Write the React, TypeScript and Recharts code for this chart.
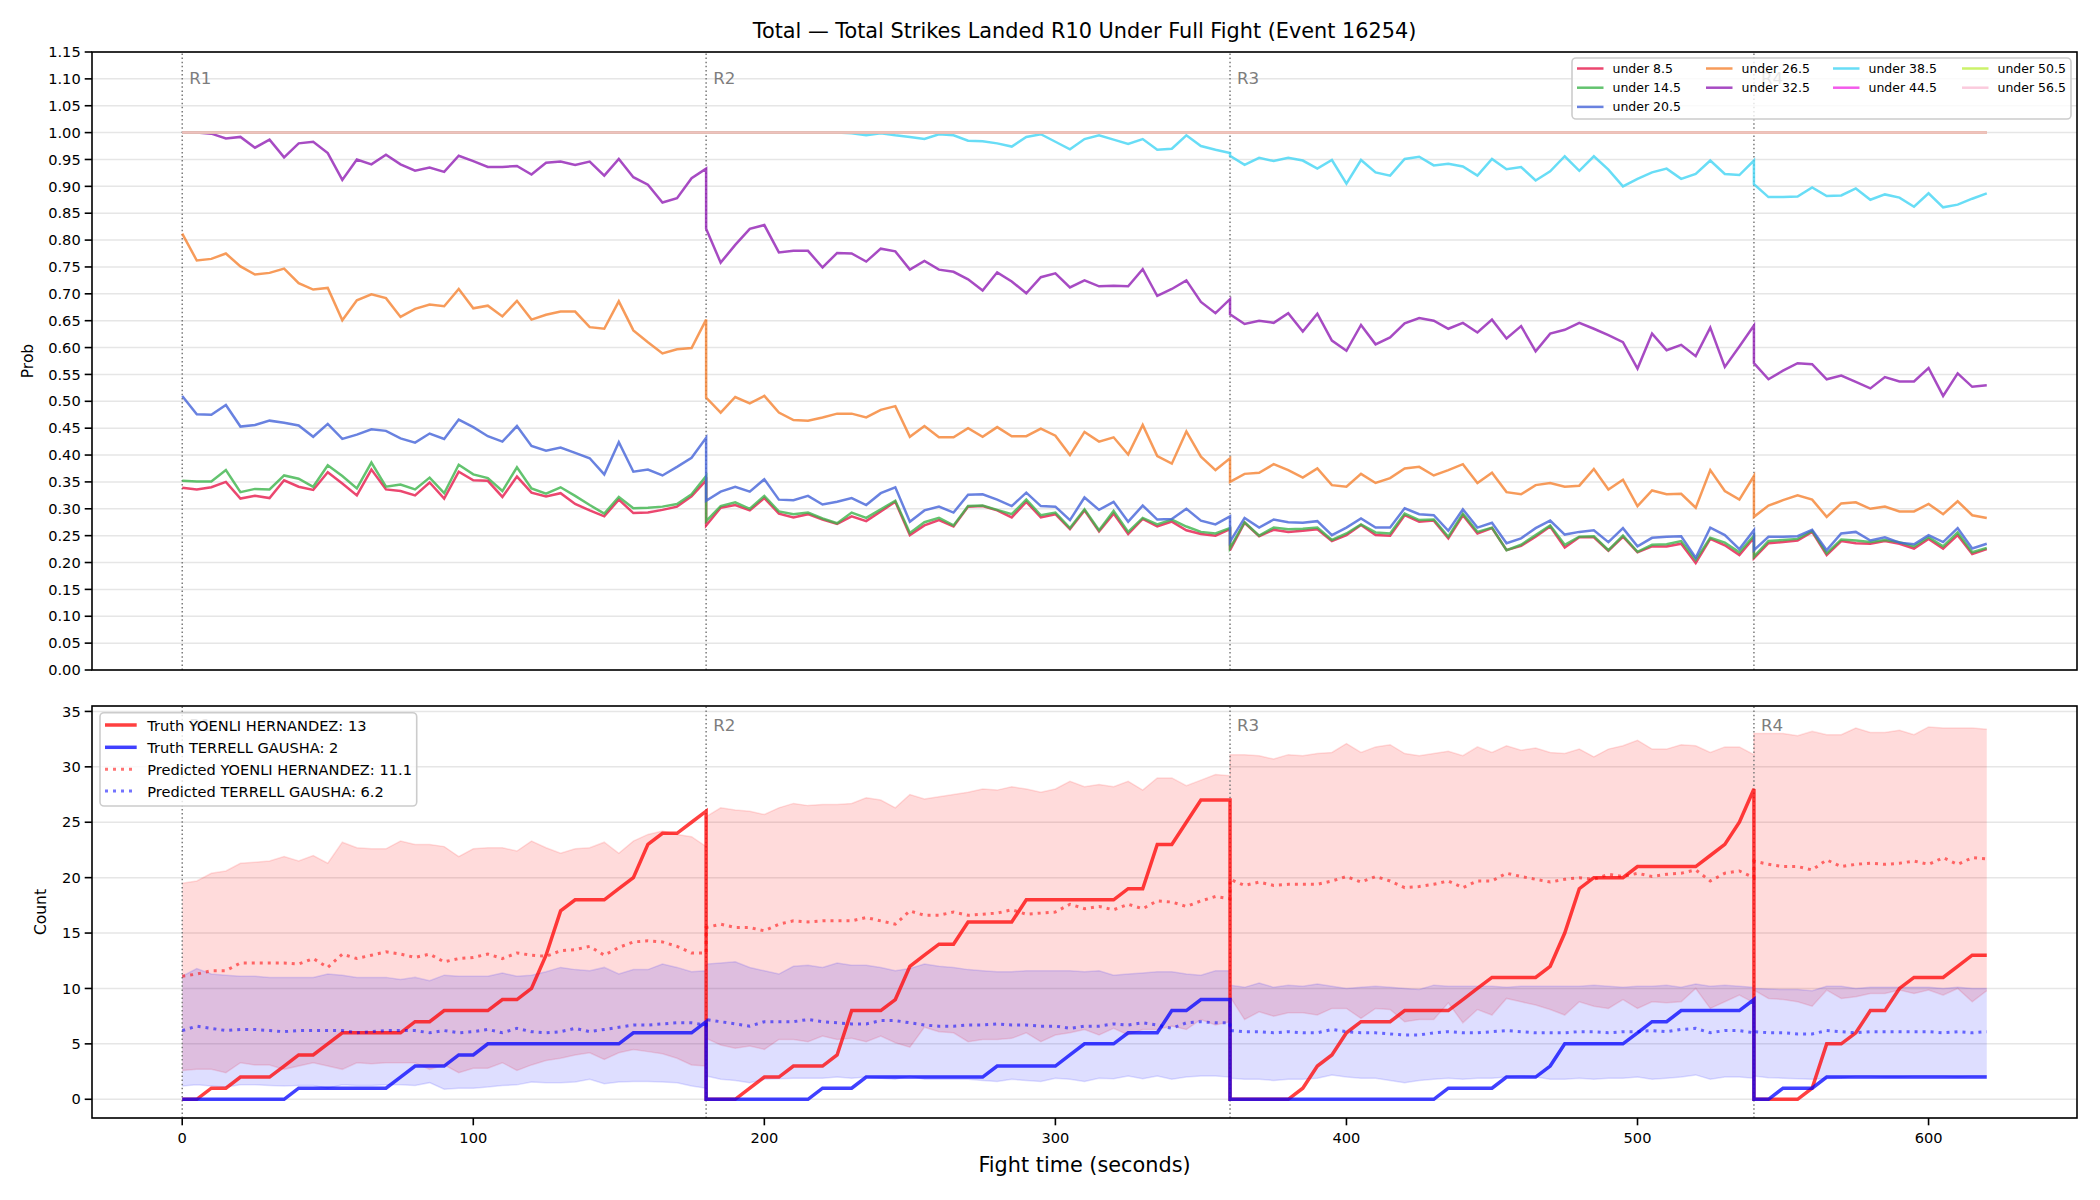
import React from 'react';
import { ComposedChart, Line, Area, XAxis, YAxis, CartesianGrid, ReferenceLine } from 'recharts';

const FONT = 'DejaVu Sans, sans-serif';

// snapshots every 5 s; each round restarts its own clock-in-fight at these times
const ROUND_STARTS = [0, 180, 360, 540];
const ROUND_NAMES = ['R1', 'R2', 'R3', 'R4'];
const SNAP_STEP = 5;

const TIME_TICKS = [0, 100, 200, 300, 400, 500, 600];
const PROB_TICKS = [0, 0.05, 0.1, 0.15, 0.2, 0.25, 0.3, 0.35, 0.4, 0.45, 0.5, 0.55, 0.6, 0.65, 0.7, 0.75, 0.8, 0.85, 0.9, 0.95, 1, 1.05, 1.1, 1.15];
const COUNT_TICKS = [0, 5, 10, 15, 20, 25, 30, 35];

const TITLE = 'Total \u2014 Total Strikes Landed R10 Under Full Fight (Event 16254)';
const FIGHTER_A = 'YOENLI HERNANDEZ';
const FIGHTER_B = 'TERRELL GAUSHA';

// ---- probability of finishing under each line, one list per round ----
const under8_5 = [
  [0.339, 0.336, 0.340, 0.350, 0.319, 0.324, 0.320, 0.353, 0.341, 0.335, 0.368, 0.347, 0.325, 0.373, 0.336, 0.333, 0.325, 0.349, 0.319, 0.369, 0.353, 0.352, 0.322, 0.360, 0.330, 0.323, 0.329, 0.309, 0.297, 0.286, 0.317, 0.292, 0.293, 0.298, 0.304, 0.323, 0.353],
  [0.269, 0.302, 0.307, 0.297, 0.320, 0.291, 0.284, 0.290, 0.280, 0.272, 0.286, 0.277, 0.295, 0.313, 0.251, 0.269, 0.279, 0.267, 0.304, 0.305, 0.297, 0.284, 0.313, 0.284, 0.290, 0.262, 0.297, 0.258, 0.291, 0.253, 0.281, 0.267, 0.276, 0.260, 0.253, 0.250, 0.262],
  [0.223, 0.274, 0.249, 0.261, 0.257, 0.259, 0.262, 0.240, 0.251, 0.270, 0.251, 0.250, 0.288, 0.276, 0.278, 0.245, 0.288, 0.254, 0.264, 0.223, 0.231, 0.248, 0.267, 0.228, 0.247, 0.247, 0.222, 0.248, 0.219, 0.230, 0.230, 0.235, 0.199, 0.244, 0.232, 0.214, 0.246],
  [0.208, 0.236, 0.238, 0.241, 0.257, 0.214, 0.240, 0.236, 0.235, 0.240, 0.235, 0.226, 0.244, 0.226, 0.251, 0.216, 0.225],
];
const under14_5 = [
  [0.352, 0.351, 0.351, 0.372, 0.331, 0.337, 0.336, 0.362, 0.356, 0.341, 0.381, 0.361, 0.338, 0.386, 0.341, 0.345, 0.336, 0.358, 0.329, 0.382, 0.364, 0.357, 0.333, 0.377, 0.338, 0.328, 0.340, 0.324, 0.307, 0.291, 0.322, 0.301, 0.302, 0.304, 0.309, 0.327, 0.361],
  [0.277, 0.305, 0.312, 0.300, 0.324, 0.295, 0.290, 0.293, 0.282, 0.273, 0.293, 0.283, 0.299, 0.315, 0.255, 0.275, 0.283, 0.269, 0.305, 0.306, 0.298, 0.290, 0.317, 0.288, 0.293, 0.264, 0.299, 0.260, 0.296, 0.257, 0.283, 0.271, 0.280, 0.267, 0.257, 0.254, 0.264],
  [0.227, 0.275, 0.250, 0.265, 0.262, 0.263, 0.265, 0.242, 0.254, 0.271, 0.256, 0.254, 0.291, 0.279, 0.280, 0.248, 0.291, 0.257, 0.265, 0.223, 0.233, 0.251, 0.269, 0.233, 0.248, 0.249, 0.223, 0.250, 0.220, 0.233, 0.234, 0.240, 0.205, 0.246, 0.237, 0.219, 0.250],
  [0.211, 0.240, 0.242, 0.244, 0.259, 0.217, 0.243, 0.241, 0.238, 0.242, 0.238, 0.230, 0.247, 0.230, 0.256, 0.219, 0.227],
];
const under20_5 = [
  [0.510, 0.476, 0.475, 0.493, 0.453, 0.456, 0.464, 0.460, 0.455, 0.434, 0.458, 0.430, 0.438, 0.448, 0.445, 0.431, 0.423, 0.440, 0.430, 0.466, 0.452, 0.435, 0.425, 0.454, 0.417, 0.408, 0.414, 0.404, 0.394, 0.364, 0.424, 0.369, 0.373, 0.362, 0.378, 0.395, 0.432],
  [0.315, 0.332, 0.341, 0.332, 0.355, 0.317, 0.316, 0.324, 0.308, 0.313, 0.320, 0.307, 0.329, 0.340, 0.276, 0.297, 0.304, 0.293, 0.326, 0.327, 0.317, 0.305, 0.330, 0.305, 0.304, 0.279, 0.321, 0.298, 0.313, 0.276, 0.306, 0.280, 0.281, 0.300, 0.278, 0.271, 0.286],
  [0.239, 0.283, 0.265, 0.280, 0.275, 0.274, 0.277, 0.251, 0.265, 0.282, 0.265, 0.265, 0.301, 0.290, 0.288, 0.259, 0.299, 0.265, 0.274, 0.236, 0.245, 0.264, 0.278, 0.252, 0.257, 0.260, 0.238, 0.264, 0.230, 0.246, 0.248, 0.249, 0.209, 0.265, 0.251, 0.225, 0.260],
  [0.223, 0.248, 0.248, 0.249, 0.261, 0.223, 0.254, 0.257, 0.241, 0.247, 0.237, 0.234, 0.251, 0.238, 0.264, 0.226, 0.235],
];
const under26_5 = [
  [0.812, 0.762, 0.765, 0.775, 0.751, 0.736, 0.739, 0.747, 0.720, 0.708, 0.711, 0.651, 0.688, 0.699, 0.692, 0.657, 0.672, 0.680, 0.677, 0.709, 0.673, 0.678, 0.658, 0.687, 0.652, 0.661, 0.667, 0.667, 0.638, 0.635, 0.686, 0.632, 0.610, 0.589, 0.597, 0.599, 0.652],
  [0.507, 0.479, 0.508, 0.496, 0.510, 0.479, 0.465, 0.464, 0.470, 0.477, 0.477, 0.470, 0.484, 0.491, 0.434, 0.454, 0.433, 0.433, 0.450, 0.434, 0.452, 0.435, 0.435, 0.449, 0.436, 0.400, 0.443, 0.425, 0.433, 0.401, 0.456, 0.398, 0.384, 0.444, 0.397, 0.372, 0.394],
  [0.350, 0.365, 0.367, 0.383, 0.372, 0.358, 0.375, 0.344, 0.341, 0.365, 0.348, 0.357, 0.375, 0.378, 0.362, 0.372, 0.383, 0.348, 0.367, 0.331, 0.327, 0.344, 0.348, 0.341, 0.343, 0.374, 0.336, 0.354, 0.305, 0.334, 0.327, 0.328, 0.302, 0.372, 0.333, 0.317, 0.361],
  [0.285, 0.306, 0.316, 0.325, 0.317, 0.285, 0.310, 0.312, 0.300, 0.304, 0.295, 0.295, 0.309, 0.290, 0.314, 0.288, 0.283],
];
const under32_5 = [
  [1.000, 1.000, 0.998, 0.989, 0.992, 0.972, 0.987, 0.954, 0.980, 0.983, 0.962, 0.912, 0.950, 0.941, 0.959, 0.941, 0.929, 0.935, 0.927, 0.957, 0.947, 0.936, 0.936, 0.938, 0.922, 0.944, 0.946, 0.940, 0.946, 0.920, 0.951, 0.917, 0.903, 0.870, 0.878, 0.915, 0.933],
  [0.821, 0.758, 0.791, 0.821, 0.828, 0.777, 0.780, 0.780, 0.749, 0.776, 0.775, 0.760, 0.784, 0.779, 0.745, 0.761, 0.745, 0.741, 0.727, 0.706, 0.740, 0.723, 0.701, 0.731, 0.738, 0.712, 0.725, 0.714, 0.715, 0.714, 0.746, 0.696, 0.709, 0.725, 0.685, 0.664, 0.690],
  [0.662, 0.644, 0.650, 0.646, 0.664, 0.630, 0.663, 0.613, 0.594, 0.642, 0.606, 0.619, 0.645, 0.655, 0.650, 0.635, 0.646, 0.628, 0.652, 0.617, 0.640, 0.593, 0.626, 0.633, 0.646, 0.635, 0.623, 0.610, 0.561, 0.626, 0.595, 0.605, 0.584, 0.637, 0.564, 0.602, 0.641],
  [0.571, 0.541, 0.557, 0.571, 0.569, 0.541, 0.548, 0.536, 0.524, 0.545, 0.537, 0.537, 0.562, 0.510, 0.552, 0.527, 0.530],
];
const under38_5 = [
  [1, 1, 1, 1, 1, 1, 1, 1, 1, 1, 1, 1, 1, 1, 1, 1, 1, 1, 1, 1, 1, 1, 1, 1, 1, 1, 1, 1, 1, 1, 1, 1, 1, 1, 1, 1, 1],
  [1, 1, 1, 1, 1, 1, 1, 1, 1, 1, 0.999, 0.995, 0.999, 0.995, 0.992, 0.988, 0.997, 0.995, 0.985, 0.984, 0.980, 0.974, 0.992, 0.997, 0.983, 0.969, 0.988, 0.995, 0.987, 0.979, 0.988, 0.968, 0.970, 0.995, 0.975, 0.968, 0.962],
  [0.957, 0.940, 0.953, 0.947, 0.953, 0.948, 0.933, 0.949, 0.905, 0.949, 0.926, 0.920, 0.951, 0.955, 0.939, 0.942, 0.937, 0.920, 0.951, 0.932, 0.936, 0.911, 0.928, 0.956, 0.929, 0.956, 0.931, 0.900, 0.914, 0.926, 0.933, 0.914, 0.923, 0.948, 0.923, 0.921, 0.948],
  [0.904, 0.880, 0.880, 0.881, 0.898, 0.882, 0.883, 0.896, 0.875, 0.885, 0.879, 0.862, 0.887, 0.861, 0.866, 0.877, 0.887],
];
const under44_5 = [
  [1, 1, 1, 1, 1, 1, 1, 1, 1, 1, 1, 1, 1, 1, 1, 1, 1, 1, 1, 1, 1, 1, 1, 1, 1, 1, 1, 1, 1, 1, 1, 1, 1, 1, 1, 1, 1],
  [1, 1, 1, 1, 1, 1, 1, 1, 1, 1, 1, 1, 1, 1, 1, 1, 1, 1, 1, 1, 1, 1, 1, 1, 1, 1, 1, 1, 1, 1, 1, 1, 1, 1, 1, 1, 1],
  [1, 1, 1, 1, 1, 1, 1, 1, 1, 1, 1, 1, 1, 1, 1, 1, 1, 1, 1, 1, 1, 1, 1, 1, 1, 1, 1, 1, 1, 1, 1, 1, 1, 1, 1, 1, 1],
  [1, 1, 1, 1, 1, 1, 1, 1, 1, 1, 1, 1, 1, 1, 1, 1, 1],
];
const under50_5 = [
  [1, 1, 1, 1, 1, 1, 1, 1, 1, 1, 1, 1, 1, 1, 1, 1, 1, 1, 1, 1, 1, 1, 1, 1, 1, 1, 1, 1, 1, 1, 1, 1, 1, 1, 1, 1, 1],
  [1, 1, 1, 1, 1, 1, 1, 1, 1, 1, 1, 1, 1, 1, 1, 1, 1, 1, 1, 1, 1, 1, 1, 1, 1, 1, 1, 1, 1, 1, 1, 1, 1, 1, 1, 1, 1],
  [1, 1, 1, 1, 1, 1, 1, 1, 1, 1, 1, 1, 1, 1, 1, 1, 1, 1, 1, 1, 1, 1, 1, 1, 1, 1, 1, 1, 1, 1, 1, 1, 1, 1, 1, 1, 1],
  [1, 1, 1, 1, 1, 1, 1, 1, 1, 1, 1, 1, 1, 1, 1, 1, 1],
];
const under56_5 = [
  [1, 1, 1, 1, 1, 1, 1, 1, 1, 1, 1, 1, 1, 1, 1, 1, 1, 1, 1, 1, 1, 1, 1, 1, 1, 1, 1, 1, 1, 1, 1, 1, 1, 1, 1, 1, 1],
  [1, 1, 1, 1, 1, 1, 1, 1, 1, 1, 1, 1, 1, 1, 1, 1, 1, 1, 1, 1, 1, 1, 1, 1, 1, 1, 1, 1, 1, 1, 1, 1, 1, 1, 1, 1, 1],
  [1, 1, 1, 1, 1, 1, 1, 1, 1, 1, 1, 1, 1, 1, 1, 1, 1, 1, 1, 1, 1, 1, 1, 1, 1, 1, 1, 1, 1, 1, 1, 1, 1, 1, 1, 1, 1],
  [1, 1, 1, 1, 1, 1, 1, 1, 1, 1, 1, 1, 1, 1, 1, 1, 1],
];

// ---- running strike counts per round ----
const truthA = [
  [0, 0, 1, 1, 2, 2, 2, 3, 4, 4, 5, 6, 6, 6, 6, 6, 7, 7, 8, 8, 8, 8, 9, 9, 10, 13, 17, 18, 18, 18, 19, 20, 23, 24, 24, 25, 26],
  [0, 0, 0, 1, 2, 2, 3, 3, 3, 4, 8, 8, 8, 9, 12, 13, 14, 14, 16, 16, 16, 16, 18, 18, 18, 18, 18, 18, 18, 19, 19, 23, 23, 25, 27, 27, 27],
  [0, 0, 0, 0, 0, 1, 3, 4, 6, 7, 7, 7, 8, 8, 8, 8, 9, 10, 11, 11, 11, 11, 12, 15, 19, 20, 20, 20, 21, 21, 21, 21, 21, 22, 23, 25, 28],
  [0, 0, 0, 0, 1, 5, 5, 6, 8, 8, 10, 11, 11, 11, 12, 13, 13],
];
const truthB = [
  [0, 0, 0, 0, 0, 0, 0, 0, 1, 1, 1, 1, 1, 1, 1, 2, 3, 3, 3, 4, 4, 5, 5, 5, 5, 5, 5, 5, 5, 5, 5, 6, 6, 6, 6, 6, 7],
  [0, 0, 0, 0, 0, 0, 0, 0, 1, 1, 1, 2, 2, 2, 2, 2, 2, 2, 2, 2, 3, 3, 3, 3, 3, 4, 5, 5, 5, 6, 6, 6, 8, 8, 9, 9, 9],
  [0, 0, 0, 0, 0, 0, 0, 0, 0, 0, 0, 0, 0, 0, 0, 1, 1, 1, 1, 2, 2, 2, 3, 5, 5, 5, 5, 5, 6, 7, 7, 8, 8, 8, 8, 8, 9],
  [0, 0, 1, 1, 1, 2, 2, 2, 2, 2, 2, 2, 2, 2, 2, 2, 2],
];
const predA = [
  [11.1, 11.3, 11.6, 11.6, 12.3, 12.3, 12.3, 12.3, 12.2, 12.7, 11.9, 13.1, 12.7, 13.0, 13.3, 13.1, 12.8, 13.1, 12.4, 12.7, 12.8, 13.1, 12.7, 13.2, 13.0, 12.9, 13.4, 13.5, 13.8, 13.0, 13.7, 14.2, 14.3, 14.2, 13.8, 13.2, 13.2],
  [15.5, 15.8, 15.5, 15.5, 15.2, 15.8, 16.1, 16.0, 16.1, 16.1, 16.1, 16.4, 16.1, 15.8, 17.0, 16.6, 16.6, 16.9, 16.6, 16.7, 16.8, 17.1, 16.7, 16.8, 16.9, 17.6, 17.2, 17.4, 17.1, 17.6, 17.2, 17.9, 17.8, 17.4, 17.9, 18.3, 18.1],
  [19.85, 19.3, 19.6, 19.3, 19.4, 19.4, 19.4, 19.7, 20.1, 19.6, 20.1, 19.7, 19.1, 19.2, 19.4, 19.7, 19.1, 19.7, 19.7, 20.4, 20.1, 19.85, 19.6, 19.85, 20.0, 19.85, 20.3, 20.1, 20.4, 20.1, 20.3, 20.4, 20.7, 19.7, 20.4, 20.6, 20.0],
  [21.5, 21.2, 21.0, 21.0, 20.7, 21.6, 21.0, 21.2, 21.3, 21.2, 21.3, 21.5, 21.2, 21.8, 21.2, 21.8, 21.7],
];
const predB = [
  [6.2, 6.6, 6.4, 6.2, 6.3, 6.3, 6.2, 6.1, 6.2, 6.2, 6.2, 6.2, 6.0, 6.1, 6.2, 6.2, 6.2, 6.0, 6.2, 6.0, 6.1, 6.3, 6.0, 6.4, 6.1, 6.0, 6.1, 6.4, 6.1, 6.3, 6.5, 6.7, 6.7, 6.8, 6.9, 6.9, 6.7],
  [7.2, 7.0, 6.8, 6.6, 7.0, 7.0, 7.0, 7.2, 7.0, 6.9, 6.8, 6.8, 7.1, 7.1, 6.9, 6.7, 6.6, 6.6, 6.7, 6.7, 6.8, 6.7, 6.7, 6.6, 6.6, 6.4, 6.6, 6.6, 6.8, 6.7, 6.9, 6.7, 6.4, 6.9, 7.0, 6.9, 6.9],
  [6.2, 6.1, 6.1, 6.0, 6.1, 6.0, 6.0, 6.3, 6.1, 6.0, 6.0, 5.9, 5.8, 5.8, 6.0, 6.1, 6.0, 6.0, 6.1, 6.2, 6.1, 6.0, 6.0, 6.0, 6.1, 6.1, 6.0, 6.1, 6.1, 6.2, 6.1, 6.3, 6.4, 6.0, 6.2, 6.2, 6.0],
  [6.1, 6.0, 6.0, 5.9, 5.9, 6.2, 6.1, 6.0, 6.1, 6.1, 6.1, 6.1, 6.1, 6.0, 6.1, 6.0, 6.1],
];
// prediction intervals
const bandAHigh = [
  [19.5, 19.7, 20.4, 20.6, 21.3, 21.4, 21.5, 21.9, 21.5, 22.0, 21.3, 23.2, 22.7, 22.6, 22.6, 23.3, 23.0, 23.0, 22.8, 21.9, 22.6, 22.7, 22.7, 22.4, 23.3, 22.7, 22.2, 22.6, 22.7, 23.2, 22.2, 23.3, 23.9, 24.2, 23.9, 23.7, 22.8],
  [25.5, 26.3, 26.1, 26.0, 25.7, 26.3, 26.7, 26.5, 26.6, 26.6, 26.7, 27.2, 27.0, 26.3, 27.5, 27.1, 27.3, 27.5, 27.7, 28.0, 27.9, 28.2, 28.0, 27.7, 28.0, 28.7, 28.2, 28.4, 28.2, 28.7, 27.9, 29.0, 29.0, 28.3, 28.8, 29.3, 29.2],
  [31.1, 31.1, 31.0, 30.7, 31.1, 31.0, 31.2, 31.3, 32.1, 31.3, 31.8, 32.0, 31.2, 31.0, 31.2, 31.4, 31.0, 31.8, 31.3, 31.9, 31.5, 31.7, 31.3, 31.2, 31.6, 30.9, 31.6, 31.9, 32.4, 31.6, 31.6, 32.0, 31.9, 31.3, 31.8, 31.8, 31.1],
  [33.0, 33.0, 33.0, 32.8, 33.2, 32.9, 32.9, 33.5, 33.1, 33.1, 33.3, 32.9, 33.6, 33.5, 33.5, 33.5, 33.4],
];
const bandALow = [
  [2.6, 2.7, 2.7, 2.4, 3.3, 3.1, 3.1, 2.7, 3.0, 3.3, 3.0, 2.7, 3.3, 3.2, 3.3, 3.3, 3.3, 2.7, 3.1, 2.4, 2.8, 2.8, 3.3, 2.6, 3.1, 3.5, 3.7, 4.0, 4.2, 3.6, 4.2, 4.5, 4.3, 4.1, 3.7, 3.1, 3.0],
  [5.5, 4.9, 4.6, 4.8, 4.5, 5.4, 5.4, 5.2, 5.7, 5.4, 5.5, 5.2, 5.7, 5.1, 4.7, 6.5, 6.1, 6.0, 5.2, 5.4, 5.4, 5.5, 6.0, 5.2, 5.8, 6.0, 6.3, 5.8, 6.4, 5.8, 6.3, 6.3, 6.6, 6.3, 7.2, 6.7, 7.0],
  [9.25, 7.2, 7.9, 7.5, 7.8, 7.8, 7.6, 8.2, 8.2, 7.3, 8.2, 8.1, 7.0, 7.2, 7.2, 8.7, 6.9, 8.1, 7.6, 9.1, 8.8, 8.5, 8.1, 7.6, 8.8, 8.4, 8.2, 9.0, 8.2, 8.8, 8.7, 8.8, 10.0, 8.2, 8.8, 9.4, 8.7],
  [9.85, 9.1, 9.0, 8.8, 8.4, 9.85, 9.1, 9.25, 9.55, 9.55, 9.85, 9.55, 9.85, 9.4, 10.0, 8.8, 9.8],
];
const bandBHigh = [
  [11.1, 11.8, 11.3, 11.2, 11.1, 11.1, 11.0, 11.0, 11.0, 11.0, 11.3, 11.2, 11.0, 11.0, 11.0, 10.8, 11.0, 10.7, 11.2, 11.1, 11.1, 11.1, 11.4, 11.1, 11.2, 11.5, 11.9, 11.7, 11.6, 11.9, 11.3, 11.7, 11.7, 12.2, 11.9, 11.5, 11.6],
  [12.2, 12.3, 12.4, 11.9, 11.6, 11.3, 12.0, 12.1, 11.9, 12.3, 12.1, 12.1, 11.9, 11.6, 11.8, 12.2, 12.0, 11.9, 11.7, 11.6, 11.5, 11.5, 11.6, 11.6, 11.6, 11.6, 11.5, 11.6, 11.2, 11.3, 11.4, 11.5, 11.5, 11.3, 11.2, 11.6, 11.6],
  [10.3, 10.1, 10.5, 10.1, 10.3, 10.2, 10.4, 10.2, 10.0, 10.1, 10.2, 10.1, 10.0, 9.9, 10.3, 10.2, 10.2, 10.2, 10.2, 10.1, 10.2, 10.2, 10.2, 10.2, 10.2, 10.3, 10.2, 10.1, 10.2, 10.2, 10.3, 10.1, 10.4, 10.2, 10.3, 10.2, 10.1],
  [10.0, 9.95, 9.9, 9.9, 9.8, 10.2, 10.2, 10.0, 10.1, 10.1, 10.1, 10.1, 10.1, 10.0, 10.1, 10.0, 10.0],
];
const bandBLow = [
  [1.2, 1.3, 1.2, 1.1, 1.3, 1.3, 1.25, 1.2, 1.25, 1.25, 1.0, 1.3, 1.25, 1.25, 1.3, 1.3, 1.25, 1.5, 0.9, 1.0, 1.0, 1.1, 1.25, 1.3, 1.55, 1.5, 1.5, 1.55, 1.8, 1.4, 1.55, 1.6, 1.6, 1.55, 1.5, 1.2, 1.0],
  [2.1, 1.8, 1.7, 1.5, 1.8, 1.85, 1.9, 1.9, 1.9, 2.0, 1.9, 2.0, 1.9, 1.8, 2.1, 1.8, 1.8, 1.8, 1.8, 1.7, 1.6, 1.8, 1.7, 1.6, 1.9, 1.8, 1.6, 1.9, 1.85, 2.1, 1.85, 2.1, 1.8, 2.0, 2.1, 2.1, 2.0],
  [1.9, 1.8, 1.8, 1.7, 1.8, 1.8, 1.9, 2.2, 2.0, 1.9, 1.9, 1.7, 1.5, 1.7, 1.8, 1.9, 1.8, 1.9, 1.9, 2.0, 2.1, 2.0, 1.8, 1.8, 1.9, 1.8, 1.9, 1.9, 2.0, 1.8, 1.9, 2.0, 2.2, 1.8, 2.0, 2.0, 1.9],
  [2.1, 1.95, 1.9, 1.85, 1.8, 1.85, 1.9, 2.1, 2.1, 2.0, 2.0, 2.1, 2.1, 2.1, 2.0, 2.1, 2.1],
];

const PROB_SERIES = [
  { key: 'u8_5', label: 'under 8.5', color: '#e6194b', values: under8_5 },
  { key: 'u14_5', label: 'under 14.5', color: '#3cb44b', values: under14_5 },
  { key: 'u20_5', label: 'under 20.5', color: '#4363d8', values: under20_5 },
  { key: 'u26_5', label: 'under 26.5', color: '#f58231', values: under26_5 },
  { key: 'u32_5', label: 'under 32.5', color: '#911eb4', values: under32_5 },
  { key: 'u38_5', label: 'under 38.5', color: '#42d4f4', values: under38_5 },
  { key: 'u44_5', label: 'under 44.5', color: '#f032e6', values: under44_5 },
  { key: 'u50_5', label: 'under 50.5', color: '#bfef45', values: under50_5 },
  { key: 'u56_5', label: 'under 56.5', color: '#fabed4', values: under56_5 },
];

type Row = Record<string, number | number[]>;

// one row per snapshot; round boundaries appear twice (end of one round, start of the next)
function buildRows(fill: (row: Row, r: number, i: number) => void, lengths: number[][]): Row[] {
  const rows: Row[] = [];
  ROUND_STARTS.forEach((start, r) => {
    lengths[r].forEach((_, i) => {
      const row: Row = { t: start + i * SNAP_STEP };
      fill(row, r, i);
      rows.push(row);
    });
  });
  return rows;
}

const probRows = buildRows((row, r, i) => {
  PROB_SERIES.forEach((s) => { row[s.key] = s.values[r][i]; });
}, under8_5);

const countRows = buildRows((row, r, i) => {
  row.truthA = truthA[r][i];
  row.truthB = truthB[r][i];
  row.predA = predA[r][i];
  row.predB = predB[r][i];
  row.bandA = [bandALow[r][i], bandAHigh[r][i]];
  row.bandB = [bandBLow[r][i], bandBHigh[r][i]];
}, truthA);

const lastOf = (v: number[][]) => v[v.length - 1][v[v.length - 1].length - 1];
const COUNT_LEGEND = [
  { label: `Truth ${FIGHTER_A}: ${lastOf(truthA)}`, color: '#ff0000', opacity: 0.75, dash: undefined, width: 3.5 },
  { label: `Truth ${FIGHTER_B}: ${lastOf(truthB)}`, color: '#0000ff', opacity: 0.75, dash: undefined, width: 3.5 },
  { label: `Predicted ${FIGHTER_A}: ${predA[0][0].toFixed(1)}`, color: '#ff0000', opacity: 0.55, dash: '3 5', width: 3 },
  { label: `Predicted ${FIGHTER_B}: ${predB[0][0].toFixed(1)}`, color: '#0000ff', opacity: 0.55, dash: '3 5', width: 3 },
];

const W = 2100;
const PLOT_LEFT = 92;
const PLOT_RIGHT = 2077;
const TOP_PLOT = { top: 52, bottom: 670 };
const BOT_PLOT = { top: 706, bottom: 1118 };
const X_DOMAIN: [number, number] = [-31, 651];

const tickStyle = { fontSize: 14.6, fill: '#000', fontFamily: FONT };
const tickLineStyle = { stroke: '#000', strokeWidth: 1.6 };

function roundMarkers(labelDy: number) {
  return ROUND_STARTS.map((t, i) => (
    <ReferenceLine
      key={t}
      x={t}
      stroke="#7a7a7a"
      strokeWidth={1.5}
      strokeDasharray="1.5 2.6"
      label={(p: any) => (
        <text x={p.viewBox.x + 7} y={p.viewBox.y + labelDy} fill="#7d7d7d" fontSize={16.7} fontFamily={FONT} dominantBaseline="central">
          {ROUND_NAMES[i]}
        </text>
      )}
    />
  ));
}

function ProbPanel() {
  return (
    <ComposedChart width={W} height={700} data={probRows} margin={{ top: TOP_PLOT.top, right: W - PLOT_RIGHT, left: 0, bottom: 0 }}>
      <CartesianGrid vertical={false} stroke="#e6e6e6" strokeWidth={1.5} />
      <XAxis type="number" dataKey="t" domain={X_DOMAIN} ticks={TIME_TICKS} allowDataOverflow height={700 - TOP_PLOT.bottom}
        tick={false} tickSize={7.3} tickLine={tickLineStyle} axisLine={false} />
      <YAxis type="number" domain={[0, 1.15]} ticks={PROB_TICKS} width={PLOT_LEFT} allowDataOverflow interval={0}
        tickFormatter={(v: number) => v.toFixed(2)} tick={tickStyle} tickSize={7.3} tickMargin={4} tickLine={tickLineStyle} axisLine={false} />
      {roundMarkers(26)}
      {PROB_SERIES.map((s) => (
        <Line key={s.key} type="linear" dataKey={s.key} stroke={s.color} strokeOpacity={0.8} strokeWidth={2.5}
          dot={false} activeDot={false} isAnimationActive={false} />
      ))}
    </ComposedChart>
  );
}

function CountPanel() {
  return (
    <ComposedChart width={W} height={500} data={countRows} margin={{ top: BOT_PLOT.top - 700, right: W - PLOT_RIGHT, left: 0, bottom: 0 }}>
      <CartesianGrid vertical={false} stroke="#e6e6e6" strokeWidth={1.5} />
      <XAxis type="number" dataKey="t" domain={X_DOMAIN} ticks={TIME_TICKS} allowDataOverflow height={1200 - BOT_PLOT.bottom}
        tick={tickStyle} tickSize={7.3} tickMargin={7} tickLine={tickLineStyle} axisLine={false} />
      <YAxis type="number" domain={[-1.69, 35.49]} ticks={COUNT_TICKS} width={PLOT_LEFT} allowDataOverflow interval={0}
        tick={tickStyle} tickSize={7.3} tickMargin={4} tickLine={tickLineStyle} axisLine={false} />
      {roundMarkers(19)}
      <Area type="linear" dataKey="bandA" fill="#ff0000" fillOpacity={0.14} stroke="#ff0000" strokeOpacity={0.12} strokeWidth={1.5}
        dot={false} activeDot={false} isAnimationActive={false} />
      <Area type="linear" dataKey="bandB" fill="#0000ff" fillOpacity={0.13} stroke="#0000ff" strokeOpacity={0.12} strokeWidth={1.5}
        dot={false} activeDot={false} isAnimationActive={false} />
      <Line type="linear" dataKey="truthA" stroke="#ff0000" strokeOpacity={0.75} strokeWidth={3.5} dot={false} activeDot={false} isAnimationActive={false} />
      <Line type="linear" dataKey="truthB" stroke="#0000ff" strokeOpacity={0.75} strokeWidth={3.5} dot={false} activeDot={false} isAnimationActive={false} />
      <Line type="linear" dataKey="predA" stroke="#ff0000" strokeOpacity={0.55} strokeWidth={3} strokeDasharray="3 5" dot={false} activeDot={false} isAnimationActive={false} />
      <Line type="linear" dataKey="predB" stroke="#0000ff" strokeOpacity={0.55} strokeWidth={3} strokeDasharray="3 5" dot={false} activeDot={false} isAnimationActive={false} />
    </ComposedChart>
  );
}

// legend column starts / row centres for the 4-column probability legend
const PROB_LEG_COLS = [1577, 1706, 1833, 1962];
const PROB_LEG_ROWS = [68.5, 87.7, 106.9];
const PROB_LEG_COLUMNS = [[0, 1, 2], [3, 4], [5, 6], [7, 8]];
const COUNT_LEG_ROWS = [725, 747.3, 769.3, 791];

function Overlay() {
  const cx = (PLOT_LEFT + PLOT_RIGHT) / 2;
  return (
    <svg width={W} height={1200} style={{ position: 'absolute', left: 0, top: 0, pointerEvents: 'none' }} fontFamily={FONT}>
      <rect x={PLOT_LEFT} y={TOP_PLOT.top} width={PLOT_RIGHT - PLOT_LEFT} height={TOP_PLOT.bottom - TOP_PLOT.top} fill="none" stroke="#000" strokeWidth={1.6} />
      <rect x={PLOT_LEFT} y={BOT_PLOT.top} width={PLOT_RIGHT - PLOT_LEFT} height={BOT_PLOT.bottom - BOT_PLOT.top} fill="none" stroke="#000" strokeWidth={1.6} />
      <text x={cx} y={31} textAnchor="middle" dominantBaseline="central" fontSize={20.8}>{TITLE}</text>
      <text x={cx} y={1165} textAnchor="middle" dominantBaseline="central" fontSize={20.8}>Fight time (seconds)</text>
      <text transform="translate(28,361) rotate(-90)" textAnchor="middle" dominantBaseline="central" fontSize={15.5}>Prob</text>
      <text transform="translate(41,912) rotate(-90)" textAnchor="middle" dominantBaseline="central" fontSize={15.5}>Count</text>

      <rect x={1572} y={58} width={499} height={61} rx={4} fill="#fff" fillOpacity={0.8} stroke="#cccccc" strokeWidth={1.6} />
      {PROB_LEG_COLUMNS.map((col, c) =>
        col.map((k, r) => {
          const s = PROB_SERIES[k];
          const x = PROB_LEG_COLS[c];
          const y = PROB_LEG_ROWS[r];
          return (
            <g key={s.key}>
              <line x1={x} x2={x + 26.5} y1={y} y2={y} stroke={s.color} strokeOpacity={0.8} strokeWidth={2.5} />
              <text x={x + 35.5} y={y} dominantBaseline="central" fontSize={12.5}>{s.label}</text>
            </g>
          );
        })
      )}

      <rect x={100} y={712.7} width={316.7} height={93.3} rx={4} fill="#fff" fillOpacity={0.8} stroke="#cccccc" strokeWidth={1.6} />
      {COUNT_LEGEND.map((item, i) => (
        <g key={item.label}>
          <line x1={105} x2={136.7} y1={COUNT_LEG_ROWS[i]} y2={COUNT_LEG_ROWS[i]} stroke={item.color} strokeOpacity={item.opacity}
            strokeWidth={item.width} strokeDasharray={item.dash} />
          <text x={147.3} y={COUNT_LEG_ROWS[i]} dominantBaseline="central" fontSize={14.6}>{item.label}</text>
        </g>
      ))}
    </svg>
  );
}

export default function App() {
  return (
    <div style={{ position: 'absolute', left: 0, top: 0, width: W, height: 1200, background: '#fff', fontFamily: FONT }}>
      <div style={{ position: 'absolute', left: 0, top: 0 }}>
        <ProbPanel />
      </div>
      <div style={{ position: 'absolute', left: 0, top: 700 }}>
        <CountPanel />
      </div>
      <Overlay />
    </div>
  );
}
